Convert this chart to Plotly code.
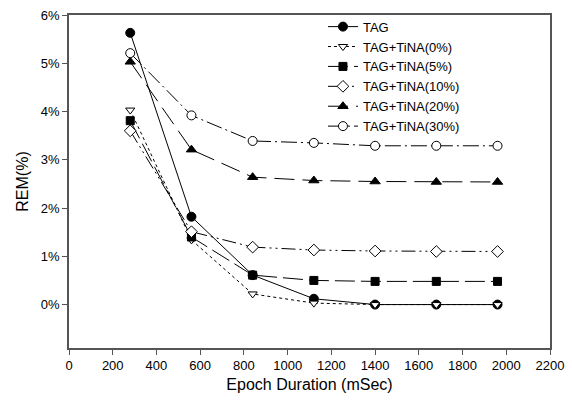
import plotly.graph_objects as go

x_vals = [280, 560, 840, 1120, 1400, 1680, 1960]
tag = [5.63, 1.82, 0.61, 0.12, 0.0, 0.0, 0.0]
tina0 = [4.03, 1.34, 0.22, 0.03, 0.0, 0.0, 0.0]
tina5 = [3.81, 1.40, 0.61, 0.50, 0.48, 0.48, 0.48]
tina10 = [3.60, 1.51, 1.19, 1.13, 1.11, 1.10, 1.10]
tina20 = [5.03, 3.21, 2.64, 2.57, 2.55, 2.54, 2.54]
tina30 = [5.21, 3.92, 3.39, 3.35, 3.29, 3.29, 3.29]

y_tick_vals = [0, 1, 2, 3, 4, 5, 6]
y_tick_text = ["0%", "1%", "2%", "3%", "4%", "5%", "6%"]
x_tick_vals = list(range(0, 2201, 200))

names = ["TAG", "TAG+TiNA(0%)", "TAG+TiNA(5%)", "TAG+TiNA(10%)", "TAG+TiNA(20%)", "TAG+TiNA(30%)"]
series = [tag, tina0, tina5, tina10, tina20, tina30]
symbols = ["circle", "triangle-down", "square", "diamond", "triangle-up", "circle"]
fills = ["black", "white", "black", "white", "black", "white"]
dashes = ["solid", "dot", "20px,6px", "14px,4px,2px,4px,2px,4px", "20px,8px", "16px,4px,2px,4px"]
sizes = [9, 8, 8, 9, 9, 9]

fig = go.Figure()
for n, s, sym, f, d, sz in zip(names, series, symbols, fills, dashes, sizes):
    fig.add_trace(go.Scatter(
        x=x_vals, y=s, name=n, mode="lines+markers",
        line=dict(color="black", width=1, dash=d),
        marker=dict(symbol=sym, size=sz, color=f, line=dict(color="black", width=1)),
    ))

axis_common = dict(showline=True, linecolor="#555555", linewidth=1.5, mirror=True,
                   ticks="outside", ticklen=5, tickcolor="#555555", showgrid=False,
                   zeroline=False, tickfont=dict(family="Liberation Sans, Arial", size=13, color="black"))

fig.update_layout(
    width=572, height=410,
    margin=dict(l=69, r=18, t=8, b=62),
    paper_bgcolor="white", plot_bgcolor="white",
    font=dict(family="Liberation Sans, Arial", size=13, color="black"),
    xaxis=dict(range=[0, 2200], tickvals=x_tick_vals,
               title=dict(text="Epoch Duration (mSec)", font=dict(size=16), standoff=6), **axis_common),
    yaxis=dict(range=[-0.9, 6], tickvals=y_tick_vals, ticktext=y_tick_text,
               title=dict(text="REM(%)", font=dict(size=16), standoff=8), **axis_common),
    legend=dict(x=0.528, y=1.01, xanchor="left", yanchor="top", bgcolor="rgba(0,0,0,0)",
                font=dict(size=13), tracegroupgap=0, itemwidth=30),
    showlegend=True,
)

fig.write_html("out.html")
